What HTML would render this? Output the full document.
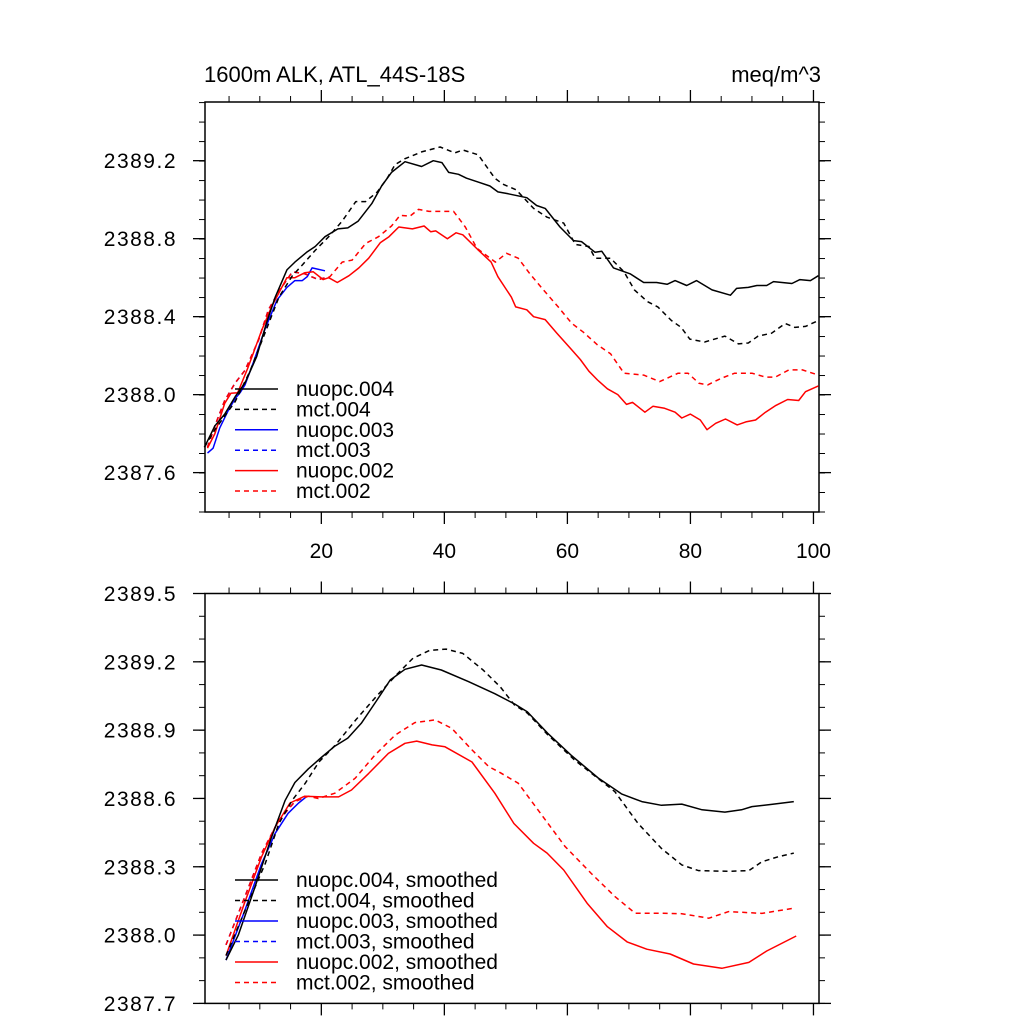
<!DOCTYPE html>
<html><head><meta charset="utf-8"><style>
html,body{margin:0;padding:0;background:#fff;}
svg{display:block;font-family:"Liberation Sans",sans-serif;}
</style></head><body>
<svg id="chart" width="1024" height="1024" viewBox="0 0 1024 1024"></svg>
<script>
// ---- data (top panel) ----
const n004X=[1,2.7,4.3,6,7.6,9.5,11.1,12.5,14.4,15.7,17.6,19,20.6,22.7,24.3,26,28.2,29.8,31.4,33.6,36.3,38.2,39.6,40.7,42.3,43.6,45.5,47.4,48.7,50.4,53.4,55,56.4,58.8,61,62.3,64.5,65.6,67.5,70.2,72.4,74.5,76.2,77.5,79.4,81,83.5,86.5,87.5,89.4,90.8,92.4,93.5,96.5,97.8,99.5,100.8];
const n004Y=[2387.73,2387.84,2387.9,2387.99,2388.06,2388.195,2388.37,2388.5,2388.64,2388.68,2388.73,2388.76,2388.81,2388.85,2388.855,2388.89,2388.98,2389.07,2389.14,2389.195,2389.17,2389.2,2389.19,2389.14,2389.13,2389.11,2389.09,2389.07,2389.04,2389.03,2389.01,2388.97,2388.955,2388.86,2388.79,2388.785,2388.73,2388.735,2388.65,2388.62,2388.575,2388.575,2388.566,2388.585,2388.56,2388.585,2388.537,2388.51,2388.545,2388.55,2388.56,2388.56,2388.58,2388.57,2388.59,2388.585,2388.61];
const m004X=[1,2.7,6,8.4,10.9,13.1,15.3,16.9,19,21.2,23.4,25.6,27.2,29.1,30.7,32,33.6,36.3,39.3,41.7,43,45.5,48.2,49.5,51.7,54.5,56.7,59.4,61.3,63.5,64.5,67,69.2,70.9,73,74.7,76.9,78.5,79.9,82.3,85.6,87.8,89.4,91,93.2,95.4,97,98.7,100.8];
const m004Y=[2387.73,2387.82,2387.965,2388.12,2388.32,2388.5,2388.61,2388.665,2388.74,2388.81,2388.89,2388.99,2388.99,2389.04,2389.11,2389.18,2389.21,2389.245,2389.27,2389.24,2389.255,2389.23,2389.11,2389.08,2389.05,2388.955,2388.91,2388.88,2388.77,2388.76,2388.7,2388.7,2388.63,2388.537,2388.477,2388.45,2388.38,2388.345,2388.285,2388.27,2388.3,2388.26,2388.265,2388.3,2388.315,2388.365,2388.345,2388.35,2388.38];
const n003X=[1.5,2.4,3.5,4.9,6,6.8,7.6,9,10.9,12.8,14.4,15.7,16.9,17.7,18.5,20.6];
const n003Y=[2387.7,2387.725,2387.83,2387.92,2387.98,2388.01,2388.05,2388.17,2388.34,2388.485,2388.55,2388.585,2388.585,2388.605,2388.65,2388.635];
const m003X=[1.5,2.7,4.3,6,7.6,9.8,11.4,13.1,15.3,17.3,19.5,20.6];
const m003Y=[2387.73,2387.84,2387.97,2388.06,2388.125,2388.28,2388.435,2388.53,2388.63,2388.62,2388.59,2388.6];
const n002X=[1.5,2.7,4.3,5.3,6.4,8.1,10.3,11.9,14.4,15.7,17.3,18.7,20.3,21.2,22.6,24.5,26.1,27.7,29.6,31,32.6,34.8,36.7,37.8,38.6,40.5,41.9,43,45.4,47.6,48.7,50.9,51.6,53.4,54.5,56.4,58.3,60.4,62.1,63.5,64.9,66.5,68.2,69.6,70.6,72.6,73.9,75.8,77.5,78.6,80,81.6,82.7,84.1,85.7,87.6,89,90.6,92.2,93.9,95.8,97.6,98.7,100.8];
const n002Y=[2387.725,2387.8,2387.955,2388.007,2388.01,2388.14,2388.33,2388.45,2388.6,2388.6,2388.625,2388.63,2388.59,2388.6,2388.575,2388.61,2388.65,2388.7,2388.78,2388.81,2388.86,2388.85,2388.865,2388.835,2388.84,2388.8,2388.83,2388.82,2388.745,2388.68,2388.605,2388.5,2388.45,2388.435,2388.4,2388.385,2388.315,2388.24,2388.18,2388.12,2388.075,2388.03,2388.0,2387.95,2387.96,2387.91,2387.94,2387.93,2387.91,2387.88,2387.9,2387.87,2387.82,2387.853,2387.875,2387.845,2387.86,2387.87,2387.91,2387.945,2387.975,2387.97,2388.015,2388.045];
const m002X=[1.5,2.7,4.3,6,7.6,9.8,11.4,13.1,15.3,17.3,19.5,21.4,23.4,25,27.2,29.3,31.4,32.8,34.4,35.8,37.5,39.6,41.5,43.4,45.3,48.3,50.1,52,53.9,56.1,58.5,60.7,62.6,64.9,67,69.2,72.4,75,78,79.6,81.4,82.8,85,87.2,90,92.2,93.8,96,98.2,100.8];
const m002Y=[2387.73,2387.84,2387.97,2388.06,2388.125,2388.28,2388.435,2388.53,2388.63,2388.62,2388.59,2388.605,2388.68,2388.69,2388.775,2388.81,2388.865,2388.92,2388.915,2388.95,2388.94,2388.94,2388.94,2388.86,2388.75,2388.68,2388.725,2388.7,2388.62,2388.537,2388.45,2388.366,2388.32,2388.255,2388.21,2388.11,2388.1,2388.067,2388.11,2388.11,2388.058,2388.05,2388.084,2388.11,2388.11,2388.09,2388.09,2388.127,2388.127,2388.1];
// ---- data (bottom panel, smoothed) ----
const sn004X=[4.5,6.5,9.2,11.9,14.1,15.7,17.9,20,22.2,24.3,26.5,29,31.2,33.6,36.3,39.5,43.9,48.2,51.4,53.5,56.8,60.6,65,68.8,72.1,75.3,78.6,81.9,85.6,88.3,90,93.2,96.8];
const sn004Y=[2387.89,2388.0,2388.21,2388.43,2388.59,2388.67,2388.73,2388.78,2388.83,2388.865,2388.93,2389.03,2389.12,2389.167,2389.186,2389.164,2389.113,2389.06,2389.015,2388.98,2388.886,2388.79,2388.69,2388.62,2388.586,2388.57,2388.575,2388.55,2388.54,2388.55,2388.564,2388.574,2388.586];
const sm004X=[4.5,8.1,10.9,13.1,15.3,17.4,19.6,22.3,25.6,28.9,32.1,34.9,37.6,40.3,43,46.3,49.1,51.4,53.5,56.8,61.1,64.4,67.7,71.5,75.3,78.6,81.3,86.2,89.5,91.6,94.4,96.8];
const sm004Y=[2387.91,2388.14,2388.315,2388.49,2388.593,2388.667,2388.76,2388.835,2388.945,2389.047,2389.14,2389.216,2389.25,2389.256,2389.237,2389.164,2389.09,2389.01,2388.975,2388.88,2388.77,2388.7,2388.63,2388.49,2388.38,2388.308,2388.283,2388.28,2388.283,2388.322,2388.345,2388.36];
const sn003X=[4.5,7.6,10.3,12.5,14.6,16.3,17.6];
const sn003Y=[2387.89,2388.11,2388.315,2388.447,2388.535,2388.58,2388.608];
const sm003X=[4.5,7.6,10.3,13.1,15.7,17.6];
const sm003Y=[2387.957,2388.17,2388.36,2388.505,2388.586,2388.61];
const sn002X=[4.5,7.6,10.3,12.5,14.9,17.3,20,22.8,24.9,27.7,30.9,33.6,35.5,38,40.1,44.5,48.2,51.3,54.5,56.7,59.4,63.2,66.5,69.7,72.9,76.7,80.5,85.1,89.5,92.4,97.2];
const sn002Y=[2387.91,2388.147,2388.345,2388.475,2388.58,2388.61,2388.607,2388.607,2388.637,2388.71,2388.798,2388.842,2388.852,2388.835,2388.827,2388.76,2388.623,2388.49,2388.403,2388.36,2388.286,2388.14,2388.037,2387.97,2387.938,2387.917,2387.873,2387.854,2387.88,2387.93,2387.996];
const sm002X=[4.5,7.6,10.3,13.1,15.7,17.9,19.5,22.2,25.5,28.7,32,35.2,38.5,41.2,44.5,47.2,49.1,52,55.2,59.6,63.9,67.7,71,75.3,78.6,83,86.2,88.4,91.6,96.8];
const sm002Y=[2387.957,2388.17,2388.36,2388.505,2388.586,2388.61,2388.6,2388.623,2388.689,2388.79,2388.878,2388.933,2388.945,2388.908,2388.813,2388.74,2388.713,2388.667,2388.55,2388.39,2388.27,2388.17,2388.096,2388.096,2388.094,2388.074,2388.103,2388.1,2388.095,2388.118];
const topTicks=[2387.6,2388.0,2388.4,2388.8,2389.2];
const botTicks=[2387.7,2388.0,2388.3,2388.6,2388.9,2389.2,2389.5];
const xTicks=[20,40,60,80,100];

const NS="http://www.w3.org/2000/svg";
const svg=document.getElementById('chart');
function mk(tag,attrs,parent){const e=document.createElementNS(NS,tag);for(const k in attrs)e.setAttribute(k,attrs[k]);(parent||svg).appendChild(e);return e;}
const L=205,R=819,X0=1.09,X1=100.9;
function sx(v){return L+(v-X0)/(X1-X0)*(R-L);}
function panel(name,top,bot,ymin,ymax,yticks,minorStep,showX){
  const g=mk('g',{});
  
  
  const sy=v=>bot-(v-ymin)/(ymax-ymin)*(bot-top);
  for(let v=ymin;v<=ymax+1e-6;v+=minorStep){const y=sy(v);
    mk('line',{x1:L-6,x2:L,y1:y,y2:y,stroke:'#000','stroke-width':1},g);
    mk('line',{x1:R,x2:R+6,y1:y,y2:y,stroke:'#000','stroke-width':1},g);}
  yticks.forEach(v=>{const y=sy(v);
    mk('line',{x1:L-12,x2:L,y1:y,y2:y,stroke:'#000','stroke-width':1.3},g);
    mk('line',{x1:R,x2:R+12,y1:y,y2:y,stroke:'#000','stroke-width':1.3},g);
    const t=mk('text',{x:177,y:y+7.5,'text-anchor':'end','font-size':21,'letter-spacing':1.5},g);
    
    
    t.textContent=v.toFixed(1);});
  for(let v=5;v<=100;v+=5){const x=sx(v);const len=(v%20===0)?12:6;
    mk('line',{x1:x,x2:x,y1:bot,y2:bot+len,stroke:'#000','stroke-width':len>6?1.3:1},g);
    mk('line',{x1:x,x2:x,y1:top-len,y2:top,stroke:'#000','stroke-width':len>6?1.3:1},g);}
  if(showX)xTicks.forEach(v=>{const t=mk('text',{x:sx(v),y:bot+46,'text-anchor':'middle','font-size':21},g);
    
    
    t.textContent=v;});
  const fr=mk('rect',{x:L,y:top,width:R-L,height:bot-top,fill:'none',stroke:'#000','stroke-width':1.5},g);
  
  
  return {g,sy};
}
function series(p,name,xs,ys,color,dash){
  const d=xs.map((x,i)=>(i?'L':'M')+sx(x).toFixed(1)+' '+p.sy(ys[i]).toFixed(1)).join(' ');
  const a={d:d,fill:'none',stroke:color,'stroke-width':1.5,'stroke-linejoin':'round'};
  if(dash)a['stroke-dasharray']='5,4';
  const e=mk('path',a,p.g);
  
  
}
function legend(p,labels,colors,dashes,y0,dy,name){
  const g=mk('g',{},p.g);
  
  
  labels.forEach((lab,i)=>{const y=y0+i*dy;
    const a={x1:235,x2:278,y1:y,y2:y,stroke:colors[i],'stroke-width':1.5};
    if(dashes[i])a['stroke-dasharray']='5,4';
    mk('line',a,g);
    const t=mk('text',{x:296,y:y+7,'font-size':21},g);
    
    
    t.textContent=lab;});
}
const cols=['#000','#000','#00f','#00f','#f00','#f00'];
const dsh=[false,true,false,true,false,true];

const p1=panel('top-panel',102,512,2387.398,2389.501,topTicks,0.1,true);
series(p1,'mct-003-line',m003X,m003Y,'#00f',true);
series(p1,'nuopc-003-line',n003X,n003Y,'#00f',false);
series(p1,'mct-002-line',m002X,m002Y,'#f00',true);
series(p1,'nuopc-002-line',n002X,n002Y,'#f00',false);
series(p1,'mct-004-line',m004X,m004Y,'#000',true);
series(p1,'nuopc-004-line',n004X,n004Y,'#000',false);
legend(p1,['nuopc.004','mct.004','nuopc.003','mct.003','nuopc.002','mct.002'],cols,dsh,389,20.4,'top-legend');

const p2=panel('bottom-panel',593.5,1003.4,2387.7,2389.5,botTicks,0.1,false);
series(p2,'mct-003-smoothed-line',sm003X,sm003Y,'#00f',true);
series(p2,'nuopc-003-smoothed-line',sn003X,sn003Y,'#00f',false);
series(p2,'mct-002-smoothed-line',sm002X,sm002Y,'#f00',true);
series(p2,'nuopc-002-smoothed-line',sn002X,sn002Y,'#f00',false);
series(p2,'mct-004-smoothed-line',sm004X,sm004Y,'#000',true);
series(p2,'nuopc-004-smoothed-line',sn004X,sn004Y,'#000',false);
legend(p2,['nuopc.004, smoothed','mct.004, smoothed','nuopc.003, smoothed','mct.003, smoothed','nuopc.002, smoothed','mct.002, smoothed'],cols,dsh,880,20.5,'bottom-legend');

const t1=mk('text',{x:204,y:82,'font-size':22});


t1.textContent='1600m ALK, ATL_44S-18S';
const t2=mk('text',{x:821,y:82,'font-size':22,'text-anchor':'end'});


t2.textContent='meq/m^3';
</script>
</body></html>
